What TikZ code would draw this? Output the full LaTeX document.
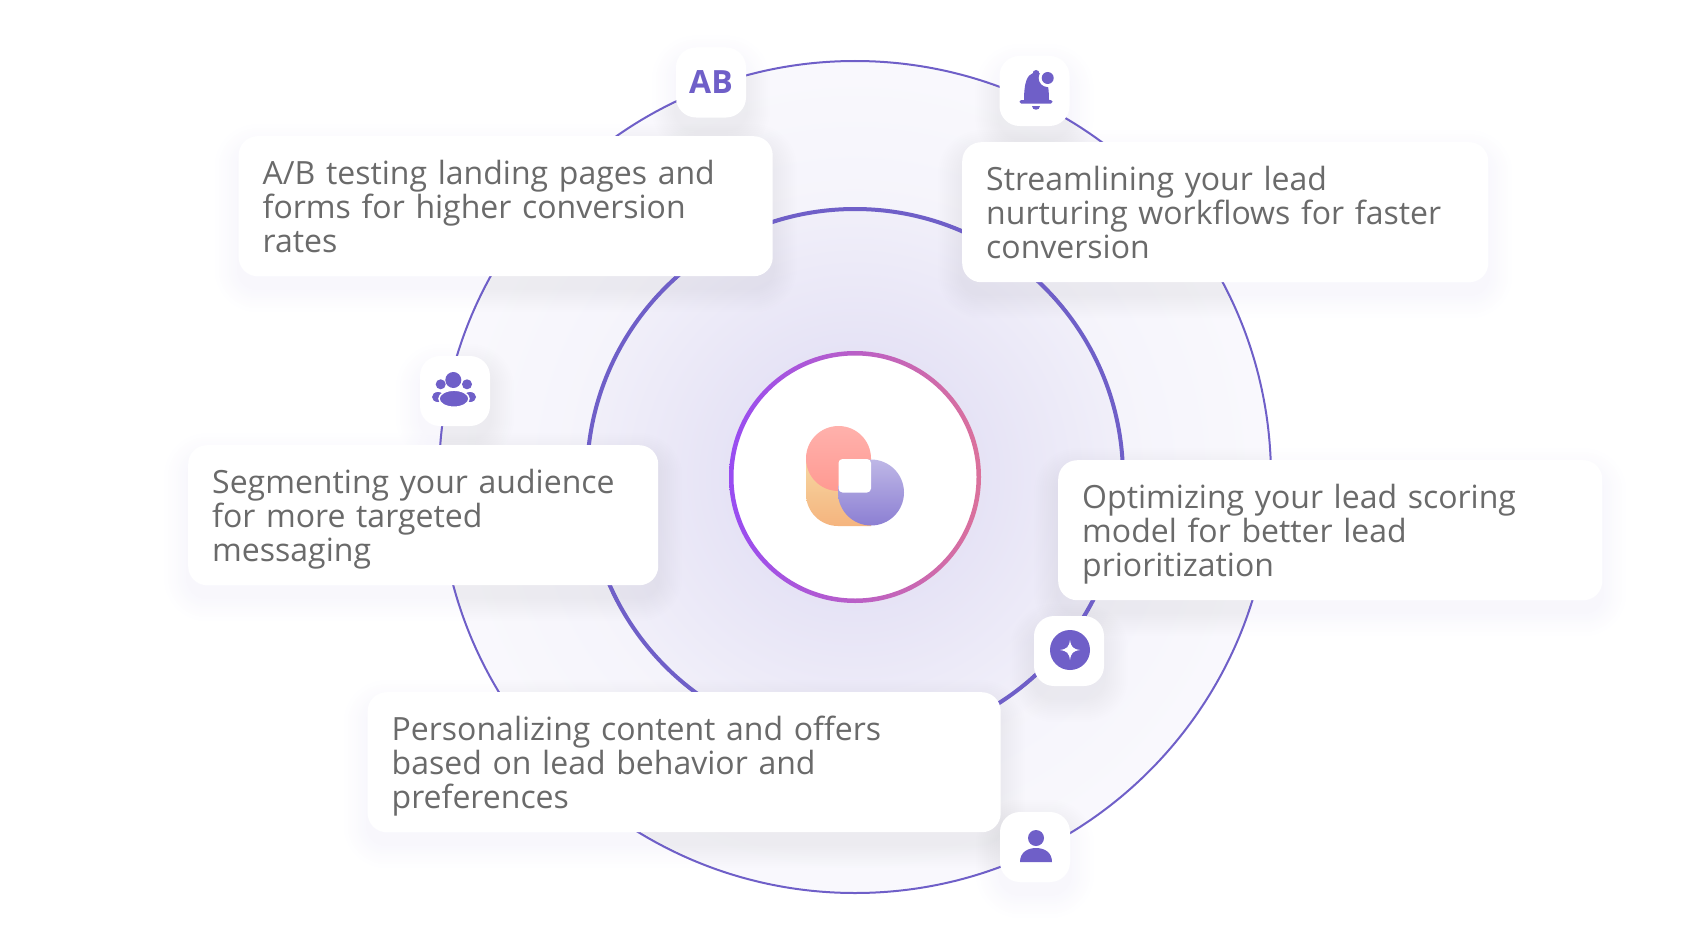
\documentclass[tikz,border=0pt]{standalone}
\usepackage{fontspec}
\setmainfont{Open Sans}
\usetikzlibrary{backgrounds,positioning}
\definecolor{iris}{HTML}{6F5FC8}
\definecolor{cardtext}{HTML}{6A6A6A}
\definecolor{ringleft}{HTML}{984CF2}
\definecolor{ringright}{HTML}{DB719B}
\definecolor{peachtop}{HTML}{F6D7A2}
\definecolor{peachlow}{HTML}{F5B47E}
\definecolor{rosetop}{HTML}{FFB1AC}
\definecolor{roselow}{HTML}{FF9A92}
\pgfdeclareradialshading{middlefill}{\pgfpointorigin}{
color(0bp)=(white!86!iris);
color(11bp)=(white!82!iris);
color(25bp)=(white!90!iris);
color(50bp)=(white!90!iris)}
\pgfdeclareradialshading{outerfill}{\pgfpointorigin}{
color(0bp)=(white!93!iris);
color(16bp)=(white!93!iris);
color(25bp)=(white!96!iris);
color(50bp)=(white!96!iris)}
\tikzset{
disc/.style={circle,draw=iris,inner sep=0pt,minimum size=#1},
card/.style={anchor=north west,fill=white,rounded corners=19pt,inner xsep=24pt,inner ysep=0pt,
minimum height=140pt,text width=#1,align=left,text=cardtext,font=\fontsize{32}{34}\selectfont,
execute at begin node={\rule{0pt}{33pt}},execute at end node={\rule[-9pt]{0pt}{9pt}}},
iconbox/.style={fill=white,rounded corners=20pt,minimum size=70pt,inner sep=0pt},
icon/.style={fill=iris,draw=none},
}
\begin{document}
\begin{tikzpicture}[x=1pt,y=-1pt]
\useasboundingbox (0,0) rectangle (1684,942);
\coordinate (mid) at (855,477);
\node[iconbox] (abbox) at (711,82.5) {};
\node[iconbox] (bellbox) at (1034.5,91) {};
\node[iconbox] (crowdbox) at (455,391) {};
\node[iconbox] (sparkbox) at (1069,651) {};
\node[iconbox] (personbox) at (1035,847) {};
\node[card=486pt] (abcard) at (238.5,136)
{A/B testing landing pages and\\forms for higher conversion\\rates};
\node[card=478pt] (leadcard) at (962,142)
{Streamlining your lead\\nurturing workflows for faster\\conversion};
\node[card=422pt] (audiencecard) at (188,445)
{Segmenting your audience\\for more targeted\\messaging};
\node[card=496pt] (scorecard) at (1058,460)
{Optimizing your lead scoring\\model for better lead\\prioritization};
\node[card=585pt] (contentcard) at (367.5,692)
{Personalizing content and offers\\based on lead behavior and\\preferences};
\node[font=\fontsize{32}{32}\selectfont\bfseries,text=iris] (ablabel) at (abbox) {AB};
\begin{scope}[on background layer]
\node[disc=832pt,line width=2pt,shading=outerfill] (outerdisc) at (mid) {};
\node[disc=536pt,line width=4pt,shading=middlefill] (middledisc) at (mid) {};
\foreach \n/\r in {abcard/19,leadcard/19,audiencecard/19,scorecard/19,contentcard/19,abbox/20,bellbox/20,crowdbox/20,sparkbox/20,personbox/20}
\foreach \s in {2,4,...,24}
\fill[iris,opacity=.005,rounded corners=\r pt+\s pt]
([xshift=-\s pt,yshift=\s pt-12pt]\n.north west) rectangle ([xshift=\s pt,yshift=-\s pt-12pt]\n.south east);
\end{scope}
\node[circle,fill=white,inner sep=0pt,minimum size=244pt] (hub) at (mid) {};
\shade[left color=ringleft,right color=ringright,even odd rule] (mid) circle [radius=126] circle [radius=121.5];
\shade[top color=peachtop,bottom color=peachlow,rounded corners=32pt]
(806,458) -- (806,526) [sharp corners] -- (871,526) -- (871,458) -- cycle;
\shade[top color=rosetop,bottom color=roselow] (838.5,458.5) circle [radius=32.5];
\shade[top color=iris!45!white,middle color=iris!75!white,bottom color=iris!80!white] (871,492.5) circle [radius=33];
\fill[white,rounded corners=4pt] (838.5,459) rectangle (871,492.5);
%bell
\fill[icon] (1036,70) .. controls (1039,70) and (1039,72) .. (1039,73) .. controls (1046,75) and (1049,83) .. (1049,100) -- (1051,100)
.. controls (1053,100) and (1053,103.5) .. (1051,103.5) -- (1021,103.5) .. controls (1019,103.5) and (1019,100) .. (1021,100) -- (1024,100)
.. controls (1024,83) and (1027,75) .. (1033,73) .. controls (1033,72) and (1033,70) .. (1036,70) -- cycle;
\fill[icon] (1032,106) -- (1040,106) .. controls (1040,111) and (1032,111) .. (1032,106) -- cycle;
\fill[white] (1047.7,78) circle [radius=9];
\fill[icon] (1047.7,78) circle [radius=6];
%crowd
\fill[icon] (453.3,380) circle [radius=8];
\fill[icon] (440.7,384.3) circle [radius=5];
\fill[icon] (467,384.3) circle [radius=5];
\fill[icon] (438,397) ellipse [x radius=6,y radius=5];
\fill[icon] (470,397) ellipse [x radius=6,y radius=5];
\fill[icon,draw=white,line width=1.5pt] (454,398.7) ellipse [x radius=15,y radius=8.5];
%spark
\fill[icon] (1070,650) circle [radius=20];
\fill[white] (1070,640) .. controls (1071,647) and (1073,649) .. (1080,650) .. controls (1073,651) and (1071,653) .. (1070,660)
.. controls (1069,653) and (1067,651) .. (1060,650) .. controls (1067,649) and (1069,647) .. (1070,640) -- cycle;
%person
\fill[icon] (1036,838) circle [radius=8];
\fill[icon] (1020,862) .. controls (1020,852) and (1028,848) .. (1036,848) .. controls (1044,848) and (1052,852) .. (1052,862) -- cycle;
\end{tikzpicture}
\end{document}
